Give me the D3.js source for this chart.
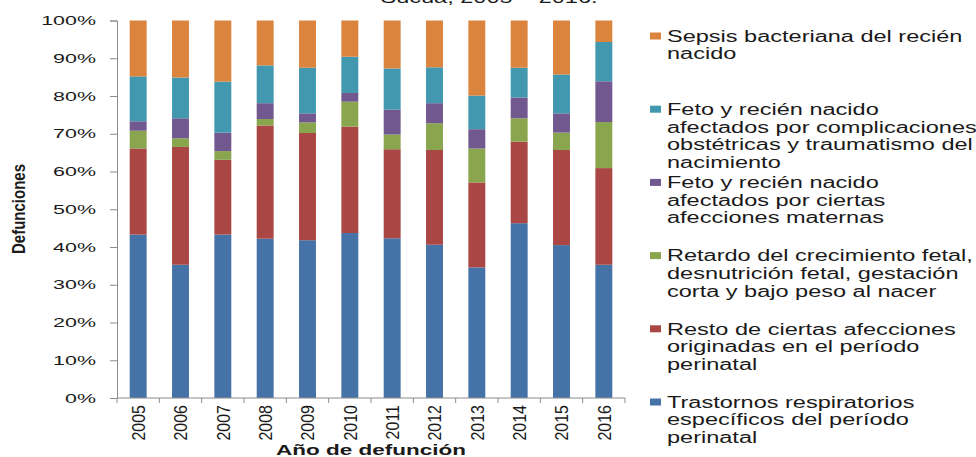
<!DOCTYPE html>
<html>
<head>
<meta charset="utf-8">
<script src="https://cdn.jsdelivr.net/npm/d3@7"></script>
<style>
  html, body { margin: 0; padding: 0; background: #fff; }
  svg { display: block; font-family: "Liberation Sans", Arial, sans-serif; }
</style>
</head>
<body>
<div id="grafico"></div>
<script>
const years = ["2005", "2006", "2007", "2008", "2009", "2010", "2011", "2012", "2013", "2014", "2015", "2016"];

// porcentajes (suman 100 por año)
const trastornos = [43.3, 35.3, 43.3, 42.2, 41.8, 43.7, 42.3, 40.6, 34.6, 46.3, 40.5, 35.3];
const resto      = [22.8, 31.2, 19.8, 30.0, 28.4, 28.2, 23.6, 25.1, 22.5, 21.6, 25.2, 25.6];
const retardo    = [4.7, 2.3, 2.3, 1.7, 2.8, 6.6, 3.9, 7.1, 9.0, 6.2, 4.6, 12.2];
const maternas   = [2.5, 5.3, 4.9, 4.2, 2.4, 2.3, 6.6, 5.3, 5.1, 5.5, 5.1, 10.8];
const obstetricas = [11.9, 10.8, 13.5, 10.0, 12.1, 9.6, 10.9, 9.5, 8.9, 7.9, 10.3, 10.4];
const sepsis     = [14.8, 15.1, 16.2, 11.9, 12.5, 9.6, 12.7, 12.4, 19.9, 12.5, 14.3, 5.7];

const seriesKeys = ["trastornos", "resto", "retardo", "maternas", "obstetricas", "sepsis"];
const seriesValues = { trastornos, resto, retardo, maternas, obstetricas, sepsis };
const seriesLabels = {
    trastornos: ["Trastornos respiratorios", "específicos del período", "perinatal"],
    resto: ["Resto de ciertas afecciones", "originadas en el período", "perinatal"],
    retardo: ["Retardo del crecimiento fetal,", "desnutrición fetal, gestación", "corta y bajo peso al nacer"],
    maternas: ["Feto y recién nacido", "afectados por ciertas", "afecciones maternas"],
    obstetricas: ["Feto y recién nacido", "afectados por complicaciones", "obstétricas y traumatismo del", "nacimiento"],
    sepsis: ["Sepsis bacteriana del recién", "nacido"]
};
const seriesColors = {
    trastornos: "#4572a7",
    resto: "#aa4643",
    retardo: "#89a54e",
    maternas: "#71588f",
    obstetricas: "#4198af",
    sepsis: "#db843d"
};

const yTicks = [0, 0.1, 0.2, 0.3, 0.4, 0.5, 0.6, 0.7, 0.8, 0.9, 1];

const width = 976;
const height = 457;
const sx = 1.47; // el texto original esta estirado en horizontal

const rows = years.map((y, i) => {
    const r = { year: y };
    seriesKeys.forEach(k => { r[k] = seriesValues[k][i]; });
    return r;
});

const svg = d3.select('#grafico')
    .append('svg')
    .attr('width', width)
    .attr('height', height);

const x = d3.scaleBand()
    .domain(years)
    .range([117, 625])
    .paddingInner(0.6)
    .paddingOuter(0.3);

const y = d3.scaleLinear()
    .domain([0, 1])
    .range([398, 20.5]);

const stacked = d3.stack()
    .keys(seriesKeys)
    .offset(d3.stackOffsetExpand)(rows);

// barras
svg.append('g')
    .selectAll('g')
    .data(stacked)
    .enter()
    .append('g')
    .attr('fill', d => seriesColors[d.key])
    .selectAll('rect')
    .data(d => d)
    .enter()
    .append('rect')
    .attr('x', d => x(d.data.year))
    .attr('width', x.bandwidth())
    .attr('y', d => y(d[1]))
    .attr('height', d => y(d[0]) - y(d[1]));

// eje Y
const yAxis = svg.append('g')
    .attr('transform', 'translate(117,0)')
    .call(d3.axisLeft(y).tickValues(yTicks).tickSize(7).tickFormat(''));
yAxis.select('.domain').attr('stroke', '#8c8c8c');
yAxis.selectAll('.tick line').attr('stroke', '#8c8c8c');

svg.append('g')
    .selectAll('text')
    .data(yTicks)
    .enter()
    .append('text')
    .attr('transform', d => `translate(96,${y(d)}) scale(1.65,1)`)
    .attr('dy', '0.36em')
    .attr('text-anchor', 'end')
    .attr('font-size', '13px')
    .attr('fill', '#1a1a1a')
    .text(d3.format('.0%'));

// eje X: linea y marcas entre categorias
const half = (x.step() - x.bandwidth()) / 2;
const bounds = years.map(d => x(d) - half).concat([x(years[years.length - 1]) + x.bandwidth() + half]);

svg.append('line')
    .attr('x1', x.range()[0])
    .attr('x2', x.range()[1])
    .attr('y1', y(0))
    .attr('y2', y(0))
    .attr('stroke', '#8c8c8c');

svg.append('g')
    .selectAll('line')
    .data(bounds)
    .enter()
    .append('line')
    .attr('x1', d => d)
    .attr('x2', d => d)
    .attr('y1', y(0))
    .attr('y2', y(0) + 5)
    .attr('stroke', '#8c8c8c');

svg.append('g')
    .selectAll('text')
    .data(years)
    .enter()
    .append('text')
    .attr('transform', d => `translate(${x(d) + x.bandwidth() / 2},405) scale(1.2,1) rotate(-90)`)
    .attr('dy', '0.36em')
    .attr('text-anchor', 'end')
    .attr('font-size', '16px')
    .attr('fill', '#1a1a1a')
    .text(d => d);

// titulos
svg.append('text')
    .attr('transform', `translate(489,3) scale(${sx},1)`)
    .attr('text-anchor', 'middle')
    .attr('font-size', '16px')
    .attr('fill', '#1a1a1a')
    .text('Sucúa, 2005 – 2016.');

svg.append('text')
    .attr('transform', `translate(371,455) scale(1.5,1)`)
    .attr('text-anchor', 'middle')
    .attr('font-size', '15px')
    .attr('font-weight', 'bold')
    .attr('fill', '#1a1a1a')
    .text('Año de defunción');

svg.append('text')
    .attr('transform', `translate(18.5,209) scale(1.25,1) rotate(-90)`)
    .attr('dy', '0.36em')
    .attr('text-anchor', 'middle')
    .attr('font-size', '15px')
    .attr('font-weight', 'bold')
    .attr('fill', '#1a1a1a')
    .text('Defunciones');

// leyenda
const legendOrder = seriesKeys.slice().reverse();
const ly = d3.scalePoint()
    .domain(legendOrder)
    .range([36, 402]);

const legend = svg.append('g')
    .attr('id', 'legend');

const item = legend.selectAll('g')
    .data(legendOrder)
    .enter()
    .append('g')
    .attr('transform', d => `translate(0,${ly(d)})`);

item.append('rect')
    .attr('x', 650)
    .attr('y', -3.5)
    .attr('width', 11)
    .attr('height', 7)
    .attr('fill', d => seriesColors[d]);

item.append('text')
    .attr('transform', `translate(667,0) scale(${sx},1)`)
    .attr('font-size', '16px')
    .attr('fill', '#1a1a1a')
    .selectAll('tspan')
    .data(d => seriesLabels[d])
    .enter()
    .append('tspan')
    .attr('x', 0)
    .attr('y', (d, i) => i * 17.6)
    .attr('dy', '0.36em')
    .text(d => d);
</script>
</body>
</html>
